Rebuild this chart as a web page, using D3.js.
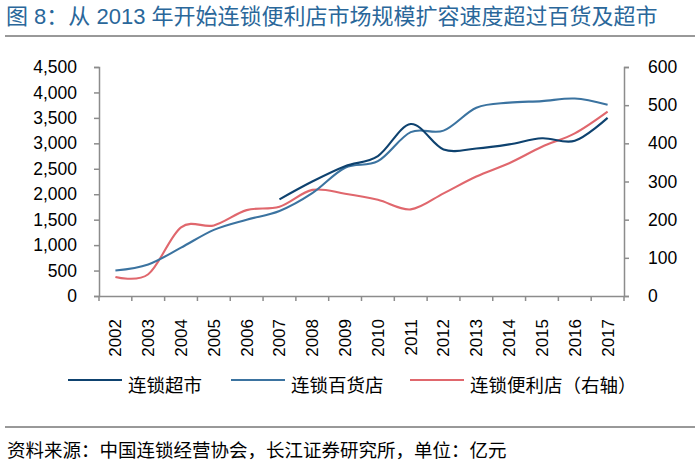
<!DOCTYPE html>
<html lang="zh">
<head>
<meta charset="UTF-8">
<script src="https://d3js.org/d3.v7.min.js"></script>
<style>
  body { margin: 0; background: #fff; }
  svg text { font-family: "Liberation Sans", Arial, "Noto Sans CJK SC", sans-serif; }
</style>
</head>
<body>
<script>
// data (亿元)
const years = ["2002","2003","2004","2005","2006","2007","2008","2009","2010","2011","2012","2013","2014","2015","2016","2017"];
const supermarket = [null,null,null,null,null,1900,2250,2550,2750,3380,2880,2900,2980,3100,3050,3500];
const deptStore = [500,620,950,1300,1500,1670,2020,2520,2650,3220,3250,3700,3800,3830,3880,3760];
const convenience = [50,57,180,185,225,234,278,268,252,227,269,313,348,391,426,483];
const leftTicks = [0,500,1000,1500,2000,2500,3000,3500,4000,4500];
const rightTicks = [0,100,200,300,400,500,600];

const W = 700, H = 470;
const m = { left: 99, right: 624, top: 67, bottom: 296 };
const axisColor = "#8c8c8c";

const svg = d3.select("body").append("svg")
  .attr("width", W).attr("height", H);

// title
svg.append("text")
  .attr("x", 6).attr("y", 24)
  .attr("font-size", 22).attr("fill", "#2a679a")
  .text("图 8：从 2013 年开始连锁便利店市场规模扩容速度超过百货及超市");
svg.append("line").attr("x1", 5).attr("x2", 695).attr("y1", 36).attr("y2", 36)
  .attr("stroke", "#333").attr("stroke-width", 1);

const x = d3.scaleBand().domain(years).range([m.left, m.right]);
const yL = d3.scaleLinear().domain([0, 4500]).range([m.bottom, m.top]);
const yR = d3.scaleLinear().domain([0, 600]).range([m.bottom, m.top]);

// left axis
const gL = svg.append("g").attr("transform", `translate(${m.left},0)`)
  .call(d3.axisLeft(yL).tickValues(leftTicks).tickFormat(d3.format(",")).tickSize(5).tickPadding(17));
// right axis
const gR = svg.append("g").attr("transform", `translate(${m.right},0)`)
  .call(d3.axisRight(yR).tickValues(rightTicks).tickSize(5).tickPadding(19));
// bottom axis
const gB = svg.append("g").attr("transform", `translate(0,${m.bottom})`)
  .call(d3.axisBottom(x).tickSize(0).tickPadding(0));

[gL, gR, gB].forEach(g => {
  g.select(".domain").attr("stroke", axisColor).attr("stroke-width", 1.5);
  g.selectAll(".tick line").attr("stroke", axisColor).attr("stroke-width", 1.5);
  g.selectAll("text").attr("font-size", 17.5).attr("fill", "#000")
    .attr("font-family", "'Liberation Sans', Arial, sans-serif");
});

// category boundary ticks
const bounds = years.map(d => x(d)).concat([m.right]);
gB.selectAll(".bt").data(bounds).enter().append("line")
  .attr("x1", d => d).attr("x2", d => d).attr("y1", 0).attr("y2", 5)
  .attr("stroke", axisColor).attr("stroke-width", 1.5);

gB.selectAll(".tick text")
  .attr("transform", "rotate(-90)")
  .attr("text-anchor", "end")
  .attr("x", -23).attr("y", 0).attr("dy", "0.35em")
  .attr("font-size", 17);

const cx = d => x(d) + x.bandwidth() / 2;

function drawLine(values, yScale, color) {
  const line = d3.line()
    .defined(d => d[1] != null)
    .x(d => cx(d[0]))
    .y(d => yScale(d[1]))
    .curve(d3.curveCardinal.tension(0));
  svg.append("path")
    .datum(years.map((yr, i) => [yr, values[i]]))
    .attr("fill", "none")
    .attr("stroke", color)
    .attr("stroke-width", 2.1)
    .attr("d", line);
}

const series = [
  { name: "连锁超市", values: supermarket, scale: yL, color: "#0e426f" },
  { name: "连锁百货店", values: deptStore, scale: yL, color: "#3b73a0" },
  { name: "连锁便利店（右轴）", values: convenience, scale: yR, color: "#e0676d" }
];

drawLine(convenience, yR, series[2].color);
drawLine(deptStore, yL, series[1].color);
drawLine(supermarket, yL, series[0].color);

// legend
const legendX = [68, 231, 410];
const lg = svg.append("g");
series.forEach((s, i) => {
  lg.append("line").attr("x1", legendX[i]).attr("x2", legendX[i] + 54)
    .attr("y1", 380).attr("y2", 380)
    .attr("stroke", s.color).attr("stroke-width", 2.1);
  lg.append("text")
    .attr("x", legendX[i] + 60).attr("y", 385).attr("dy", "0.36em")
    .attr("font-size", 18.5).attr("fill", "#000")
    .text(s.name);
});

// footer
svg.append("line").attr("x1", 5).attr("x2", 695).attr("y1", 427).attr("y2", 427)
  .attr("stroke", "#333").attr("stroke-width", 1);
svg.append("text")
  .attr("x", 7).attr("y", 450).attr("dy", "0.36em")
  .attr("font-size", 18.5).attr("fill", "#000")
  .text("资料来源：中国连锁经营协会，长江证券研究所，单位：亿元");
</script>
</body>
</html>
